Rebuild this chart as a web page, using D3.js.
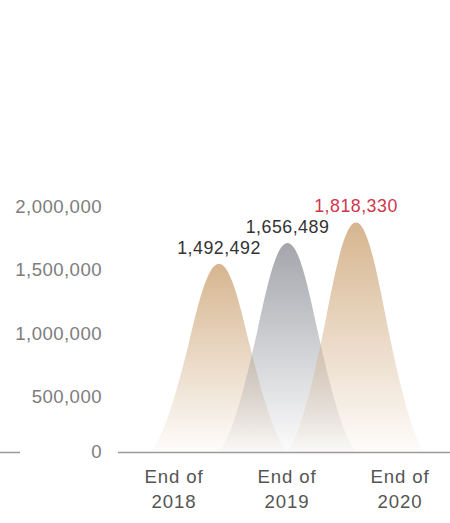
<!DOCTYPE html>
<html>
<head>
<meta charset="utf-8">
<script src="https://cdn.jsdelivr.net/npm/d3@7/dist/d3.min.js"></script>
<style>
  html, body { margin: 0; padding: 0; background: #fff; }
  svg { display: block; font-family: "Liberation Sans", Arial, Helvetica, sans-serif; }
</style>
</head>
<body>
<svg id="chart" width="450" height="523"></svg>
<script>
// Year-end totals
const categories = ["2018", "2019", "2020"];
const values = [1492492, 1656489, 1818330];
const categoryLabels = [["End of", "2018"], ["End of", "2019"], ["End of", "2020"]];
const yTicks = [0, 500000, 1000000, 1500000, 2000000];

const W = 450, H = 523;
const svg = d3.select("#chart");

const y = d3.scaleLinear().domain([0, 2000000]).range([452.5, 199.5]);
// peak centres of the mountain shapes
const x = d3.scalePoint().domain(categories).range([219, 356]);
// category captions under the axis
const xl = d3.scalePoint().domain(categories).range([174, 400]);

const fmt = d3.format(",");
const tan = "#d2ad83", grey = "#9a9ca3";
const colorOf = i => (i % 2 === 0 ? tan : grey);

// vertical fade gradients
const defs = svg.append("defs");
categories.forEach((c, i) => {
  const g = defs.append("linearGradient")
    .attr("id", "fade" + c)
    .attr("x1", 0).attr("y1", 0).attr("x2", 0).attr("y2", 1);
  g.append("stop").attr("offset", "0%").attr("stop-color", colorOf(i)).attr("stop-opacity", 0.9);
  g.append("stop").attr("offset", "100%").attr("stop-color", colorOf(i)).attr("stop-opacity", 0.03);
});

// bell-shaped outline: base → inflection → peak → inflection → base
function mountain(cx, top, base, hw) {
  const h = base - top;
  const px = u => u * hw, py = f => base - f * h;
  const p = d3.path();
  p.moveTo(cx - px(1), py(0));
  p.bezierCurveTo(cx - px(0.81), py(0.08), cx - px(0.63), py(0.3), cx - px(0.44), py(0.58));
  p.bezierCurveTo(cx - px(0.29), py(0.81), cx - px(0.16), py(1), cx, py(1));
  p.bezierCurveTo(cx + px(0.16), py(1), cx + px(0.29), py(0.81), cx + px(0.44), py(0.58));
  p.bezierCurveTo(cx + px(0.63), py(0.3), cx + px(0.81), py(0.08), cx + px(1), py(0));
  p.closePath();
  return p.toString();
}

const hw = x.step();
svg.append("g").selectAll("path")
  .data(values)
  .join("path")
  .attr("d", (v, i) => mountain(x(categories[i]), y(v), y(0), hw))
  .attr("fill", (v, i) => "url(#fade" + categories[i] + ")");

// value labels above each peak
svg.append("g").selectAll("text")
  .data(values)
  .join("text")
  .attr("x", (v, i) => x(categories[i]))
  .attr("y", v => y(v) - 10)
  .attr("text-anchor", "middle")
  .attr("font-size", 17.8)
  .attr("letter-spacing", 0.5)
  .attr("fill", (v, i) => (i === values.length - 1 ? "#d0374b" : "#333"))
  .text(v => fmt(v));

// baseline, broken around the zero label
const axisG = svg.append("g").attr("stroke", "#9a9a9a").attr("stroke-width", 1.5);
axisG.append("line").attr("x1", 0).attr("x2", 20).attr("y1", y(0)).attr("y2", y(0));
axisG.append("line").attr("x1", 118).attr("x2", W).attr("y1", y(0)).attr("y2", y(0));

// y tick labels, hung from their gridline; zero sits on the axis
svg.append("g").selectAll("text")
  .data(yTicks)
  .join("text")
  .attr("x", 102)
  .attr("y", d => (d === 0 ? y(d) + 5 : y(d) + 13.5))
  .attr("text-anchor", "end")
  .attr("font-size", 18.6)
  .attr("letter-spacing", 0.45)
  .attr("fill", "#7d7d7d")
  .text(d => fmt(d));

// category captions
const cap = svg.append("g").selectAll("text")
  .data(categories)
  .join("text")
  .attr("text-anchor", "middle")
  .attr("font-size", 18.6)
  .attr("letter-spacing", 0.9)
  .attr("fill", "#555");
cap.selectAll("tspan")
  .data((c, i) => categoryLabels[i].map(t => ({ t, c })))
  .join("tspan")
  .attr("x", d => xl(d.c))
  .attr("y", (d, j) => 483 + j * 25)
  .text(d => d.t);
</script>
</body>
</html>
